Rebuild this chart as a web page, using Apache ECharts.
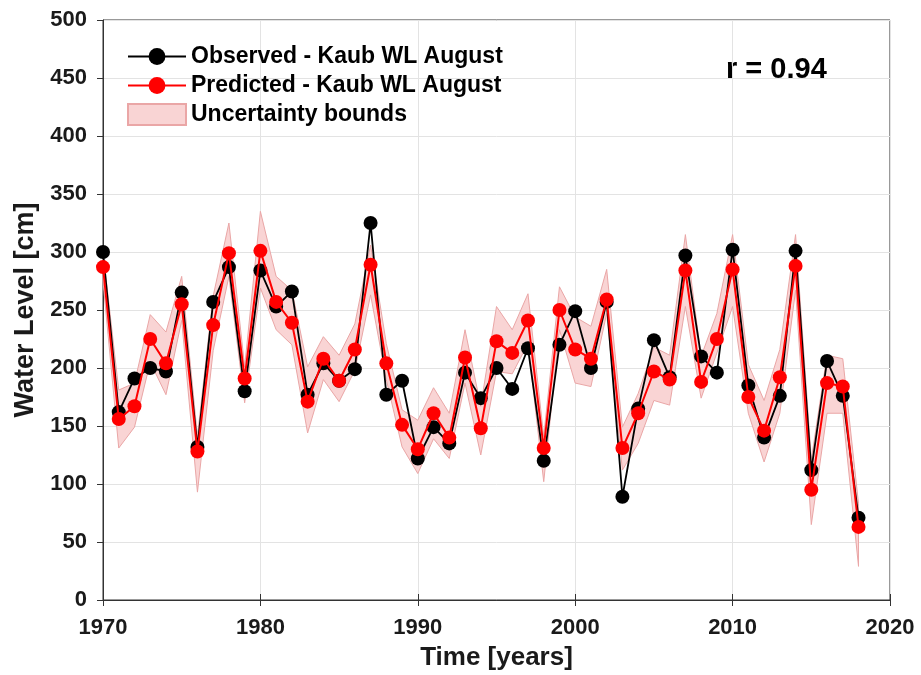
<!DOCTYPE html>
<html>
<head>
<meta charset="utf-8">
<script src="https://cdn.jsdelivr.net/npm/echarts@6/dist/echarts.min.js"></script>
<style>
  html, body { margin: 0; padding: 0; background: #fff; }
  #chart { width: 921px; height: 675px; }
</style>
</head>
<body>
<div id="chart"></div>
<script>
var years = [1970, 1971, 1972, 1973, 1974, 1975, 1976, 1977, 1978, 1979,
             1980, 1981, 1982, 1983, 1984, 1985, 1986, 1987, 1988, 1989,
             1990, 1991, 1992, 1993, 1994, 1995, 1996, 1997, 1998, 1999,
             2000, 2001, 2002, 2003, 2004, 2005, 2006, 2007, 2008, 2009,
             2010, 2011, 2012, 2013, 2014, 2015, 2016, 2017, 2018];
var observed = [300, 162, 191, 200, 197, 265, 132, 257, 287, 180,
                284, 253, 266, 177, 204, 189, 199, 325, 177, 189,
                122, 149, 135, 196, 174, 200, 182, 217, 120, 220,
                249, 200, 257, 89, 165, 224, 192, 297, 210, 196,
                302, 185, 140, 176, 301, 112, 206, 176, 71];
var predicted = [287, 156, 167, 225, 204, 255, 128, 237, 299, 191,
                 301, 257, 239, 171, 208, 189, 216, 289, 204, 151,
                 130, 161, 140, 209, 148, 223, 213, 241, 131, 250,
                 216, 208, 259, 131, 161, 197, 190, 284, 188, 225,
                 285, 175, 146, 192, 288, 95, 187, 184, 63];
var upperBound = [300, 181, 187, 246, 231, 279, 141, 262, 325, 201,
                  335, 279, 267, 201, 227, 211, 238, 306, 221, 164,
                  155, 183, 161, 233, 167, 253, 233, 264, 141, 270,
                  244, 236, 285, 149, 178, 218, 211, 315, 210, 247,
                  315, 203, 172, 216, 315, 121, 211, 208, 83];
var lowerBound = [275, 131, 149, 205, 177, 241, 93, 215, 279, 170,
                  269, 233, 220, 144, 190, 171, 198, 263, 190, 132,
                  109, 139, 122, 187, 125, 197, 195, 221, 102, 233,
                  187, 184, 247, 112, 135, 172, 168, 253, 174, 213,
                  253, 161, 119, 161, 267, 65, 161, 161, 29];
var xTicks = [1970, 2020, 10];
var yTicks = [0, 500, 50];
var rText = 'r = 0.94';

var chart = echarts.init(document.getElementById('chart'));

function pairs(vals) {
    return years.map(function (y, i) { return [y, vals[i]]; });
}

var bandData = years.map(function (y, i) { return [y, lowerBound[i], upperBound[i]]; });

// whole band drawn once as one polygon
function renderBand(params, api) {
    if (params.dataIndex !== 0) return;
    var pts = [];
    for (var i = 0; i < years.length; i++) pts.push(api.coord([years[i], upperBound[i]]));
    for (var j = years.length - 1; j >= 0; j--) pts.push(api.coord([years[j], lowerBound[j]]));
    return {
        type: 'polygon',
        shape: { points: pts },
        style: { fill: '#f9d4d4', stroke: '#eaa6a6', lineWidth: 1 }
    };
}

var boldFont = 'Liberation Sans';

var option = {
    animation: false,
    backgroundColor: '#fff',
    grid: {
        left: 103, right: 31, top: 20, bottom: 75,
        outerBoundsMode: 'none',
        show: true, borderColor: '#333', borderWidth: 1
    },
    legend: {
        orient: 'vertical',
        left: 122,
        top: 40,
        itemWidth: 58,
        itemHeight: 21,
        itemGap: 6,
        textStyle: { fontFamily: boldFont, fontWeight: 'bold', fontSize: 23, color: '#000' },
        data: [
            { name: 'Observed - Kaub WL August' },
            { name: 'Predicted - Kaub WL August' },
            { name: 'Uncertainty bounds', icon: 'rect' }
        ]
    },
    graphic: [{
        type: 'text',
        left: 726,
        top: 55,
        style: {
            text: rText,
            fontFamily: boldFont,
            fontWeight: 'bold',
            fontSize: 29,
            fill: '#000'
        }
    }],
    xAxis: [{
        type: 'value',
        min: xTicks[0],
        max: xTicks[1],
        interval: xTicks[2],
        name: 'Time [years]',
        nameLocation: 'middle',
        nameGap: 45,
        nameTextStyle: { fontFamily: boldFont, fontWeight: 'bold', fontSize: 26, color: '#1a1a1a' },
        axisLine: { show: true, onZero: false, lineStyle: { color: '#333', width: 1 } },
        axisTick: { show: true, inside: false, length: 6, lineStyle: { color: '#333' } },
        axisLabel: {
            fontFamily: boldFont, fontWeight: 'bold', fontSize: 22, color: '#1a1a1a', margin: 17,
            formatter: function (v) { return String(v); }
        },
        splitLine: { show: true, lineStyle: { color: '#e3e3e3', width: 1 } }
    }, {
        type: 'value',
        position: 'top',
        min: xTicks[0],
        max: xTicks[1],
        interval: xTicks[2],
        axisLine: { show: true, lineStyle: { color: '#333', width: 1 } },
        axisTick: { show: true, inside: false, length: 6, lineStyle: { color: '#333' } },
        axisLabel: { show: false },
        splitLine: { show: false }
    }],
    yAxis: {
        type: 'value',
        min: yTicks[0],
        max: yTicks[1],
        interval: yTicks[2],
        name: 'Water Level [cm]',
        nameLocation: 'middle',
        nameGap: 64,
        nameTextStyle: { fontFamily: boldFont, fontWeight: 'bold', fontSize: 27, color: '#1a1a1a' },
        axisLine: { show: true, lineStyle: { color: '#333', width: 1 } },
        axisTick: { show: true, inside: false, length: 6, lineStyle: { color: '#333' } },
        axisLabel: { fontFamily: boldFont, fontWeight: 'bold', fontSize: 22, color: '#1a1a1a', margin: 16 },
        splitLine: { show: true, lineStyle: { color: '#e3e3e3', width: 1 } }
    },
    series: [{
        name: 'Uncertainty bounds',
        type: 'custom',
        renderItem: renderBand,
        data: bandData,
        encode: { x: 0, y: [1, 2] },
        itemStyle: { color: '#f9d4d4', borderColor: '#eaa6a6', borderWidth: 1 },
        z: 1
    }, {
        name: 'Observed - Kaub WL August',
        type: 'line',
        data: pairs(observed),
        symbol: 'circle',
        symbolSize: 14,
        itemStyle: { color: '#000' },
        lineStyle: { color: '#000', width: 1.8 },
        z: 3
    }, {
        name: 'Predicted - Kaub WL August',
        type: 'line',
        data: pairs(predicted),
        symbol: 'circle',
        symbolSize: 14,
        itemStyle: { color: '#ff0000' },
        lineStyle: { color: '#ff0000', width: 2 },
        z: 4
    }]
};

chart.setOption(option);
</script>
</body>
</html>
